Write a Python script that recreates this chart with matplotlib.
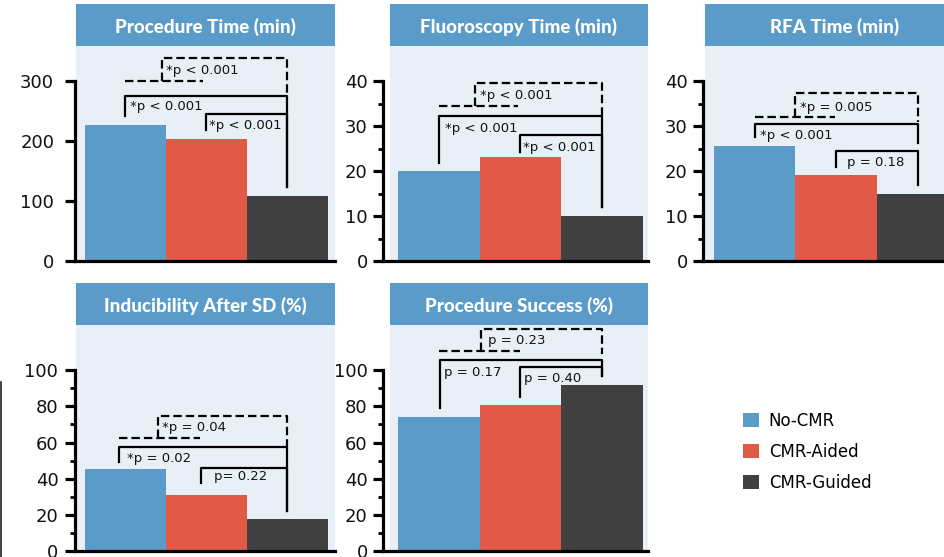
import matplotlib.pyplot as plt
from matplotlib.patches import Patch, Rectangle
from matplotlib.lines import Line2D

# Datos
groups = ['No-CMR', 'CMR-Aided', 'CMR-Guided']
titles = ['Procedure Time (min)', 'Fluoroscopy Time (min)', 'RFA Time (min)',
          'Inducibility After SD (%)', 'Procedure Success (%)']
procedure_time = [227, 203, 108]
fluoro_time = [20, 23.1, 10.1]
rfa_time = [25.6, 19.1, 14.9]
inducibility = [45.5, 31, 17.5]
success = [74, 81, 92]
values = [procedure_time, fluoro_time, rfa_time, inducibility, success]

# p-valores: (No vs Guided, Aided vs Guided, No+Aided vs Guided)
p_labels = [
    ['*p < 0.001', '*p < 0.001', '*p < 0.001'],
    ['*p < 0.001', '*p < 0.001', '*p < 0.001'],
    ['*p < 0.001', 'p = 0.18', '*p = 0.005'],
    ['*p = 0.02', 'p= 0.22', '*p = 0.04'],
    ['p = 0.17', 'p = 0.40', 'p = 0.23'],
]

colors = ['#5a9bc8', '#e05a47', '#404040']
bg = '#e9eff6'
head = '#5b9bc9'

# Layout em pixels (left, top, right, bottom)
W, H = 945, 557
axes_px = [(75, 46, 335, 261), (383, 46, 648, 261), (703, 46, 964, 261),
           (75, 325, 335, 551), (383, 325, 648, 551)]
box_px = [(76, 4, 335, 46), (390, 4, 648, 46), (705, 4, 964, 46),
          (76, 283, 335, 325), (390, 283, 648, 325)]
xmargins = [(0.12, 0.09), (0.18, 0.06), (0.135, 0.07), (0.12, 0.09), (0.18, 0.06)]
ylims = [358, 47.8, 47.8, 125, 125]
ymax_tick = [300, 40, 40, 100, 100]
major = [100, 10, 10, 20, 20]
minor = [None, 5, 5, 10, 10]
tick_pad = [8, 4, 4, 5, 4]

# Colchetes: solid A (x1, x2, top, y1, y2, lx, ly), solid B, dashed (x1, x2, xm, x3, low, top, y3, lx, ly)
brackets = [
    [(0, 2, 275, 242, 123, 0.06, 257), (1, 2, 245, 218, 123, 1.04, 225),
     (0, 0.96, 0.45, 2, 300, 338, 278, 0.5, 318)],
    [(0, 2, 32.2, 21.8, 12.0, 0.08, 29.5), (1, 2, 28.0, 24.2, 12.0, 1.03, 25.3),
     (0, 0.97, 0.45, 2, 34.4, 39.6, 32.2, 0.5, 36.9)],
    [(0, 2, 30.4, 27.6, 26.2, 0.07, 27.8), (1, 2, 24.4, 20.9, 16.9, 1.13, 22.0),
     (0, 0.99, 0.5, 2, 32.0, 37.3, 31.0, 0.56, 34.2)],
    [(-0.08, 2, 57.5, 49.2, 22, 0.02, 51.4), (0.93, 2, 45.9, 37.6, 22, 1.1, 41),
     (-0.08, 0.92, 0.41, 2, 62.4, 74.6, 57.5, 0.46, 68.5)],
    [(0.02, 2, 105.5, 79, 96.7, 0.07, 98.9), (1, 2, 101.7, 85, 96.7, 1.05, 95.6),
     (0, 1.0, 0.52, 2, 110.5, 122.6, 109, 0.6, 116.6)],
]

dash = (0, (3.8, 1.8))


def rect(l, t, r, b):
    return [l / W, 1 - b / H, (r - l) / W, (b - t) / H]


fig = plt.figure(figsize=(9.45, 5.57), dpi=100)
fig.patch.set_facecolor('white')

for i in range(5):
    l, t, r, b = box_px[i]
    bottom = axes_px[i][3]
    fig.add_artist(Rectangle((l / W, 1 - bottom / H), (r - l) / W, (bottom - b) / H,
                             transform=fig.transFigure, facecolor=bg, edgecolor='none', zorder=-2))
    fig.add_artist(Rectangle((l / W, 1 - b / H), (r - l) / W, (b - t) / H,
                             transform=fig.transFigure, facecolor=head, edgecolor='none', zorder=-2))
    fig.text((l + r) / 2 / W, 1 - ((t + b) / 2 + 2) / H, titles[i], color='white', fontsize=13.5,
             fontweight='black', family='Lato', ha='center', va='center')

    ax = fig.add_axes(rect(*axes_px[i]))
    ax.set_facecolor('none')
    ax.bar(range(3), values[i], width=1.0, color=colors, edgecolor='none')
    ax.set_xlim(-0.5 - xmargins[i][0], 2.5 + xmargins[i][1])
    ax.set_ylim(0, ylims[i])
    ax.set_yticks(range(0, ymax_tick[i] + 1, major[i]))
    if minor[i]:
        ax.set_yticks(range(0, ymax_tick[i] + 1, minor[i]), minor=True)
    ax.set_xticks([])
    for s in ['top', 'right']:
        ax.spines[s].set_visible(False)
    ax.spines['left'].set_bounds(0, ymax_tick[i])
    for s in ['left', 'bottom']:
        ax.spines[s].set_linewidth(2.3)
    ax.tick_params(axis='y', which='major', length=7, width=2.3, labelsize=13,
                   pad=tick_pad[i], labelcolor='#111111')
    ax.tick_params(axis='y', which='minor', length=3.5, width=2.0)

    a, bb, d = brackets[i]
    for (x1, x2, top, y1, y2, lx, ly), lab in zip([a, bb], p_labels[i][:2]):
        ax.plot([x1, x1, x2, x2], [y1, top, top, y2], color='black', lw=1.6, clip_on=False)
        ax.text(lx, ly, lab, fontsize=9.5, ha='left', va='center', color='#111111')
    x1, x2, xm, x3, low, top, y3, lx, ly = d
    ax.plot([x1, x2], [low, low], color='black', lw=1.6, ls=dash, clip_on=False)
    ax.plot([xm, xm, x3, x3], [low, top, top, y3], color='black', lw=1.6,
            ls=dash, clip_on=False)
    ax.text(lx, ly, p_labels[i][2], fontsize=9.5, ha='left', va='center', color='#111111')

# Legenda
handles = [Patch(facecolor=c, edgecolor='none', label=g) for c, g in zip(colors, groups)]
fig.legend(handles=handles, loc='upper left', bbox_to_anchor=(743 / W, 1 - 412 / H),
           frameon=False, fontsize=12, handlelength=0.95, handleheight=0.95,
           handletextpad=0.6, labelspacing=0.78, borderpad=0, borderaxespad=0)

# linha na borda esquerda
fig.add_artist(Line2D([1.5 / W, 1.5 / W], [0, 1 - 382 / H], transform=fig.transFigure,
                      color='#222222', lw=1.2))

plt.savefig('out.png', dpi=100)
